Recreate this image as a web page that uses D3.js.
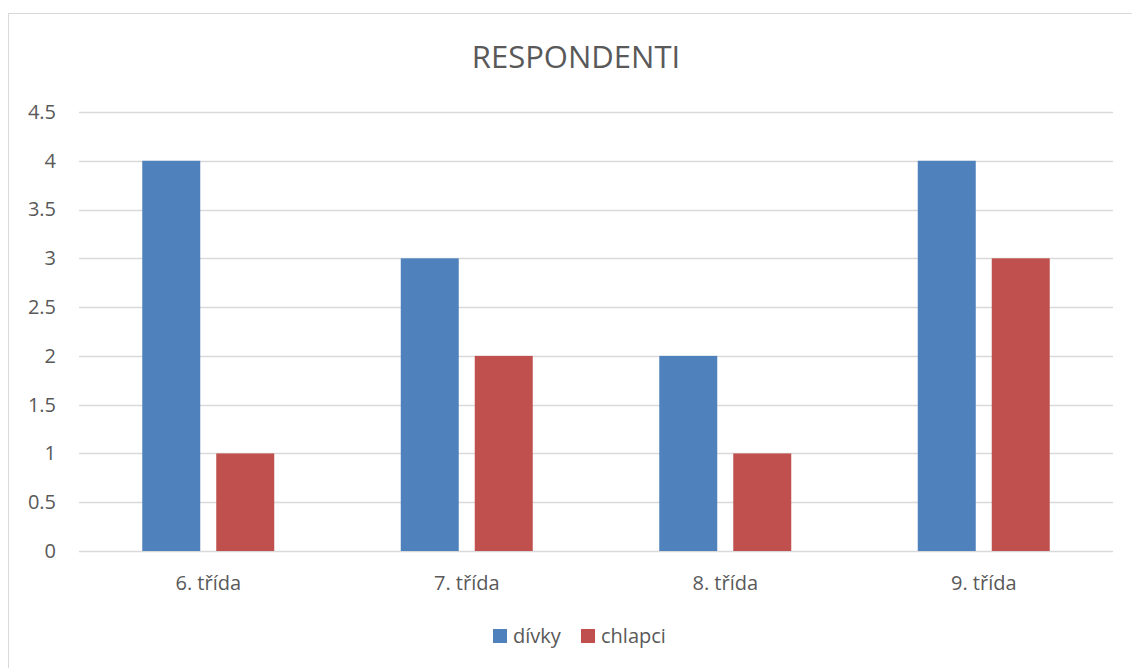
<!DOCTYPE html>
<html><head><meta charset="utf-8">
<script src="https://cdn.jsdelivr.net/npm/d3@7"></script>
<style>
html,body{margin:0;padding:0;background:#fff;}
svg{display:block;}
text{font-family:"Open Sans",sans-serif;fill:#595959;}
</style></head>
<body><svg id="c" width="1132" height="668"></svg>
<script>
const title = "RESPONDENTI";
const categories = ["6. třída", "7. třída", "8. třída", "9. třída"];
const seriesNames = ["dívky", "chlapci"];
const divky = [4, 3, 2, 4];
const chlapci = [1, 2, 1, 3];
const yTicks = [0, 0.5, 1, 1.5, 2, 2.5, 3, 3.5, 4, 4.5];
const colors = ["#4f81bd", "#c0504d"];

const svg = d3.select("#c");
const W = 1132, H = 668;
const plot = {left: 79, right: 1113, top: 112, bottom: 551};
const fs = "20px";

// border
svg.append("rect").attr("x", 8.5).attr("y", 13.5).attr("width", W + 10).attr("height", H + 10)
  .attr("fill", "none").attr("stroke", "#d9d9d9").attr("stroke-width", 1);

const y = d3.scaleLinear().domain([0, 4.5]).range([plot.bottom, plot.top]);
const x0 = d3.scaleBand().domain(categories).range([plot.left, plot.right])
  .paddingInner(0.4894).paddingOuter(0.2447);
const x1 = d3.scaleBand().domain(seriesNames).range([0, x0.bandwidth()])
  .paddingInner(0.2162).paddingOuter(0);

// gridlines
svg.append("g").selectAll("line").data(yTicks).join("line")
  .attr("x1", plot.left).attr("x2", plot.right)
  .attr("y1", d => Math.round(y(d)) + 0.5).attr("y2", d => Math.round(y(d)) + 0.5)
  .attr("stroke", "#d9d9d9").attr("stroke-width", 1.3);

// y axis labels
const yAxis = d3.axisLeft(y).tickValues(yTicks).tickSize(0).tickPadding(0).tickFormat(d3.format("~g"));
const ya = svg.append("g").attr("transform", `translate(56,0)`).call(yAxis);
ya.select(".domain").remove();
ya.selectAll("text").style("font-family", '"Open Sans",sans-serif').style("font-size", fs).attr("fill", "#595959");

// x axis labels
const xAxis = d3.axisBottom(x0).tickSize(0).tickPadding(0);
const xa = svg.append("g").attr("transform", `translate(0,${plot.bottom + 25})`).call(xAxis);
xa.select(".domain").remove();
xa.selectAll("text").style("font-family", '"Open Sans",sans-serif').style("font-size", fs).attr("fill", "#595959");

// bars
const data = categories.map((c, i) => ({cat: c, vals: [divky[i], chlapci[i]]}));
const groups = svg.append("g").selectAll("g").data(data).join("g")
  .attr("transform", d => `translate(${x0(d.cat)},0)`);
groups.selectAll("rect").data(d => d.vals.map((v, j) => ({s: seriesNames[j], v, j}))).join("rect")
  .attr("x", d => x1(d.s)).attr("width", x1.bandwidth())
  .attr("y", d => y(d.v)).attr("height", d => y(0) - y(d.v))
  .attr("fill", d => colors[d.j]);

// title
svg.append("text").attr("x", 576).attr("y", 68).attr("text-anchor", "middle")
  .style("font-size", "31px").text(title);

// legend
const legendX = [493, 581];
const lg = svg.append("g").selectAll("g").data(seriesNames).join("g")
  .attr("transform", (d, i) => `translate(${legendX[i]},629)`);
lg.append("rect").attr("width", 14).attr("height", 14).attr("fill", (d, i) => colors[i]);
lg.append("text").attr("x", 20).attr("y", 14).style("font-size", fs).text(d => d);
</script></body></html>
